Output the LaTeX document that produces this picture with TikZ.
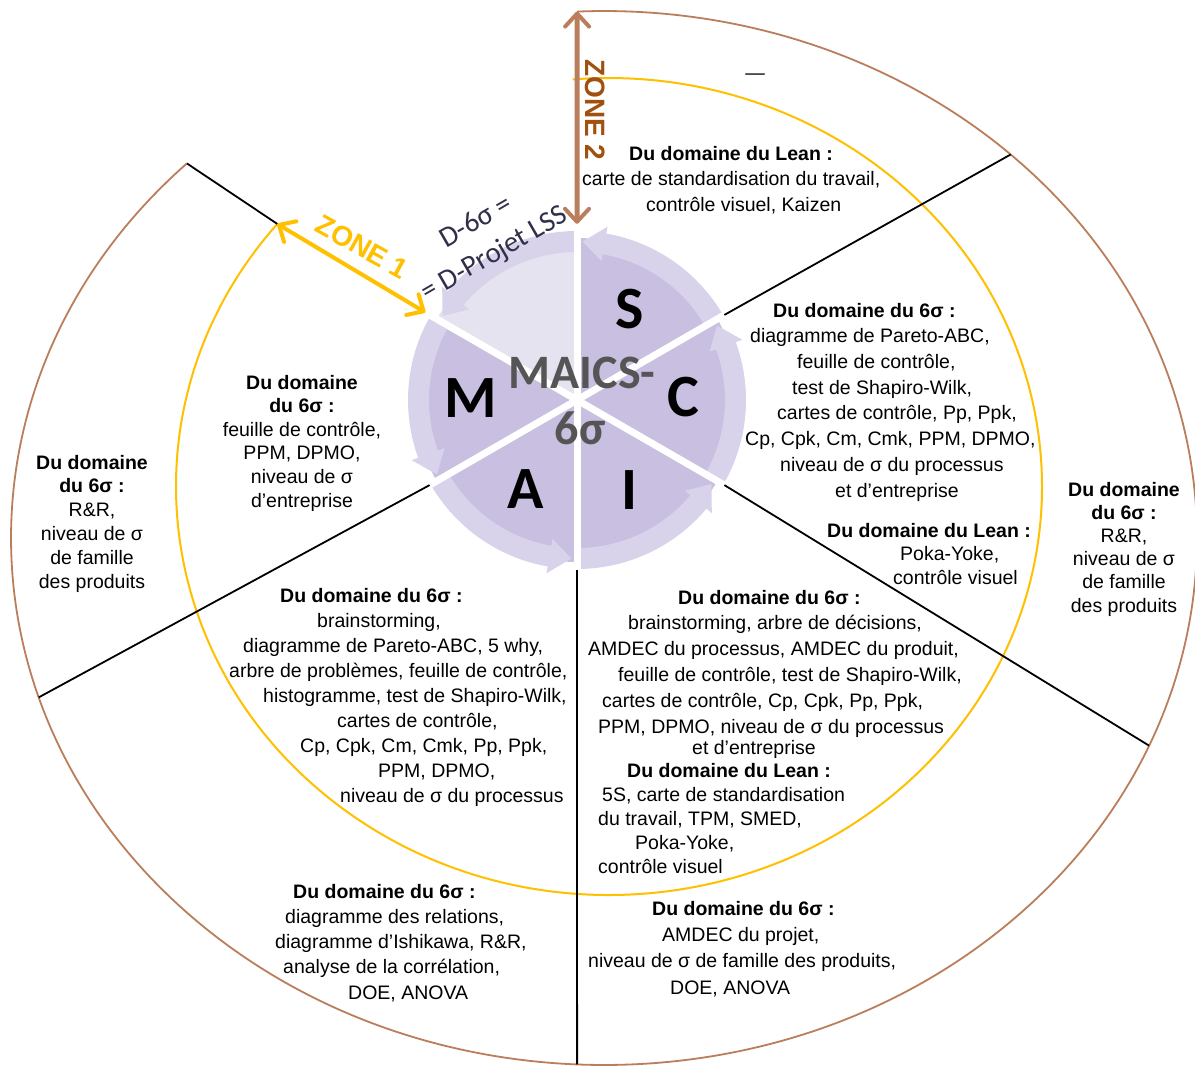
\documentclass[tikz,border=0pt]{standalone}
\usepackage{fontspec}
\setmainfont{Liberation Sans}
\newfontfamily\calibri{Carlito}
\usetikzlibrary{arrows.meta}

\definecolor{lavande}{HTML}{C8BFE1}
\definecolor{lavpale}{HTML}{E4E3EF}
\definecolor{anneau}{HTML}{D8D3EB}
\definecolor{jaune}{HTML}{FFC000}
\definecolor{brun}{HTML}{BA7E5C}
\definecolor{brunfonce}{HTML}{A0500F}
\definecolor{ardoise}{HTML}{30304A}
\definecolor{grismaics}{HTML}{555555}

% retrait d'une ligne dans un bloc
\newcommand{\retrait}[1]{\hspace*{#1pt}}

\tikzset{
  bloc/.style={inner sep=0pt, align=center, anchor=north},
  blocg/.style={inner sep=0pt, align=left, anchor=north west},
  trait/.style={line width=1.8pt},
  barbe/.style={{Straight Barb[length=13pt,width=24pt,line width=4pt,round]}-{Straight Barb[length=13pt,width=24pt,line width=4pt,round]}},
  lettre/.style={inner sep=0pt, font=\calibri\bfseries\fontsize{60}{60}\selectfont},
  centre/.style={inner sep=0pt, text=grismaics, font=\calibri\bfseries\fontsize{48}{48}\selectfont},
  zone/.style={inner sep=0pt, font=\bfseries\fontsize{28}{28}\selectfont},
}
\newcommand{\corps}[1]{\fontsize{19.5}{#1}\selectfont}

\begin{document}
\begin{tikzpicture}[x=1pt,y=1pt]
 \fill[white] (0,0) rectangle (1195,-1066);
 \useasboundingbox (0,0) rectangle (1195,-1066);

 % centres des deux zones
 \coordinate (oc) at (604,-538);
 \coordinate (yc) at (609,-486.5);
 \path (oc) ++(92.6:593 and 527) coordinate (b90)
       (oc) ++(46.7:593 and 527) coordinate (b30)
       (oc) ++(336.8:593 and 527) coordinate (b330)
       (oc) ++(267.4:593 and 527) coordinate (b270)
       (oc) ++(197.6:593 and 527) coordinate (b210)
       (oc) ++(134.7:593 and 527) coordinate (b150)
       (yc) ++(140:433 and 408.5) coordinate (y150);

 % zone 2 et zone 1
 \draw[brun, line width=1.8pt] (b150) arc[start angle=134.7, end angle=452.6, x radius=593, y radius=527];
 \draw[jaune, line width=2pt] (y150) arc[start angle=140, end angle=454.8, x radius=433, y radius=408.5];

 % roue MAICS
 \node[circle, minimum size=340pt, inner sep=0pt] (wheel) at (577,-400) {};
 \begin{scope}[shift={(577,-400)}]
  \foreach \a/\c in {-30/lavande, 30/lavande, 90/lavpale, 150/lavande, 210/lavande, 270/lavande} {
   \fill[\c] (0,0) -- (\a:162) arc[start angle=\a, end angle=\a+60, radius=162] -- cycle;
   \fill[anneau] (\a:148) -- (\a:169) arc[start angle=\a, end angle=\a+50, radius=169]
     -- (\a+50:176) -- (\a+58:158.5) -- (\a+50:141) -- (\a+50:148)
     arc[start angle=\a+50, end angle=\a, radius=148] -- cycle;
  }
  \foreach \a in {30,90,...,330} \draw[white, line width=7pt] (0,0) -- (\a:185);
 \end{scope}

 % separations
 \draw[trait] (wheel.30) -- (b30);
 \draw[trait] (wheel.330) -- (b330);
 \draw[trait] (wheel.270) -- (b270);
 \draw[trait] (wheel.210) -- (b210);
 \draw[trait] (b150) -- (y150);

 % fleches des zones
 \draw[barbe, jaune, line width=4pt, shorten >=5pt] (y150) -- (wheel.150);
 \draw[barbe, brun, line width=5pt, shorten >=6pt] (b90) -- (wheel.90);
 \node[zone, text=jaune, rotate=-29] (z1) at (362,-247) {ZONE 1};
 \node[zone, text=brunfonce, rotate=-90] (z2) at (595,-110) {ZONE 2};

 % lettres de la roue
 \node[lettre] (lS) at (630,-309) {S};
 \node[lettre] (lC) at (683,-397) {C};
 \node[lettre] (lI) at (629,-490) {I};
 \node[lettre] (lA) at (526,-489) {A};
 \node[lettre] (lM) at (471,-398) {M};
 \node[centre] (maics) at (582,-373) {MAICS-};
 \node[centre] (six) at (580,-428) {6σ};
 \node[inner sep=0pt, text=ardoise, rotate=30, align=center,
       font=\calibri\fontsize{29}{37}\selectfont] (projet) at (485.5,-238.5) {D-6σ =\\= D-Projet LSS};

 \node[inner sep=0pt, anchor=base, font=\corps{24}] (tiret) at (755,-79) {—};

 % secteur du haut
 \node[blocg, font=\corps{25.5}] (haut) at (582,-145.8)
  {\retrait{47}\textbf{Du domaine du Lean :}\\
   carte de standardisation du travail,\\
   \retrait{64}contrôle visuel, Kaizen};

 % secteur de droite
 \node[blocg, font=\corps{25.7}] (droite) at (745,-302.8)
  {\retrait{28}\textbf{Du domaine du 6σ :}\\
   \retrait{5}diagramme de Pareto-ABC,\\
   \retrait{52}feuille de contrôle,\\
   \retrait{47}test de Shapiro-Wilk,\\
   \retrait{32}cartes de contrôle, Pp, Ppk,\\
   Cp, Cpk, Cm, Cmk, PPM, DPMO,\\
   \retrait{35}niveau de σ du processus\\
   \retrait{90}et d’entreprise};
 \node[blocg, font=\corps{23.5}] (droitelean) at (827,-522.8)
  {\textbf{Du domaine du Lean :}\\
   \retrait{73}Poka-Yoke,\\
   \retrait{66}contrôle visuel};

 % zone 2 a droite et a gauche
 \node[bloc, font=\corps{23.2}] (extd) at (1124,-481.8)
  {\textbf{Du domaine}\\ \textbf{du 6σ :}\\ R\&R,\\ niveau de σ\\ de famille\\ des produits};
 \node[bloc, font=\corps{23.8}] (extg) at (92,-454.8)
  {\textbf{Du domaine}\\ \textbf{du 6σ :}\\ R\&R,\\ niveau de σ\\ de famille\\ des produits};

 % secteur de gauche
 \node[bloc, font=\corps{23.6}] (gauche) at (302,-374.8)
  {\textbf{Du domaine}\\ \textbf{du 6σ :}\\ feuille de contrôle,\\ PPM, DPMO,\\ niveau de σ\\ d’entreprise};

 % secteur en bas a gauche
 \node[blocg, font=\corps{25}] (basg) at (229,-587.8)
  {\retrait{51}\textbf{Du domaine du 6σ :}\\
   \retrait{88}brainstorming,\\
   \retrait{14}diagramme de Pareto-ABC, 5 why,\\
   arbre de problèmes, feuille de contrôle,\\
   \retrait{34}histogramme, test de Shapiro-Wilk,\\
   \retrait{108}cartes de contrôle,\\
   \retrait{71}Cp, Cpk, Cm, Cmk, Pp, Ppk,\\
   \retrait{149}PPM, DPMO,\\
   \retrait{111}niveau de σ du processus};

 % secteur en bas a droite
 \node[blocg, font=\corps{25.8}] (basd) at (588,-589.8)
  {\retrait{90}\textbf{Du domaine du 6σ :}\\
   \retrait{40}brainstorming, arbre de décisions,\\
   AMDEC du processus, AMDEC du produit,\\
   \retrait{30}feuille de contrôle, test de Shapiro-Wilk,\\
   \retrait{14}cartes de contrôle, Cp, Cpk, Pp, Ppk,\\
   \retrait{10}PPM, DPMO, niveau de σ du processus};
 \node[blocg, font=\corps{23.8}] (basdlean) at (598,-739.8)
  {\retrait{94}et d’entreprise\\
   \retrait{29}\textbf{Du domaine du Lean :}\\
   \retrait{4}5S, carte de standardisation\\
   du travail, TPM, SMED,\\
   \retrait{37}Poka-Yoke,\\
   contrôle visuel};

 % zone 2 en bas
 \node[blocg, font=\corps{25.25}] (extbg) at (275,-883.8)
  {\retrait{18}\textbf{Du domaine du 6σ :}\\
   \retrait{10}diagramme des relations,\\
   diagramme d’Ishikawa, R\&R,\\
   \retrait{8}analyse de la corrélation,\\
   \retrait{73}DOE, ANOVA};
 \node[blocg, font=\corps{26.3}] (extbd) at (588,-900.8)
  {\retrait{64}\textbf{Du domaine du 6σ :}\\
   \retrait{74}AMDEC du projet,\\
   niveau de σ de famille des produits,\\
   \retrait{82}DOE, ANOVA};
\end{tikzpicture}
\end{document}
